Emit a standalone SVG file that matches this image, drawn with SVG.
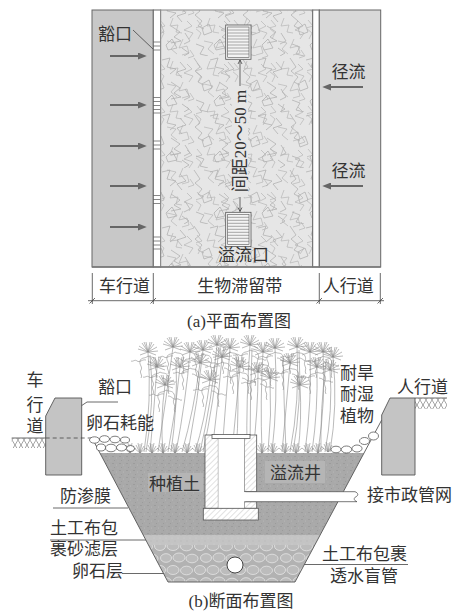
<svg xmlns="http://www.w3.org/2000/svg" xmlns:xlink="http://www.w3.org/1999/xlink" width="460" height="611" viewBox="0 0 460 611">
  <style>
    .t { font-family: "Liberation Serif", "Noto Sans CJK SC", serif; font-size: 17px; fill: #333; }
    .ln { stroke: #444; stroke-width: 0.8; fill: none; }
    .arw { stroke: #666; stroke-width: 2; fill: none; }
    .plant { stroke: #8c8c8c; stroke-width: 0.6; fill: none; }
    .edge { stroke: #666; stroke-width: 1; }
    .peb { fill: #fff; stroke: #444; stroke-width: 0.7; }
  </style>
  <defs>
    <marker id="ah" viewBox="0 0 10 8" refX="0" refY="4" markerWidth="10" markerHeight="7" markerUnits="userSpaceOnUse" orient="auto">
      <path d="M0,0 L10,4 L0,8 z" fill="#666"/>
    </marker>
    <!-- scribbled vegetation texture for the plan view, two tiles of different size -->
    <pattern id="scrib" width="48" height="56" patternUnits="userSpaceOnUse">
      <rect width="48" height="56" fill="#e6e6e6"/>
      <path d="M2,2 l6,9 -5,4 7,6 -4,5 6,3 M18,4 l8,-2 -3,9 9,2 -6,5 M36,6 l6,7 -9,3 5,6 M10,28 l7,-4 3,8 -8,3 z M27,26 l9,6 -6,5 7,4 -10,2 M41,33 l5,8 -6,3 M4,44 l8,3 -4,7 8,2 M22,45 l6,-6 5,9 -9,2 z M38,48 l7,5 -5,3" fill="none" stroke="#ababab" stroke-width="0.7"/>
    </pattern>
    <pattern id="scrib2" x="11" y="17" width="37" height="43" patternUnits="userSpaceOnUse">
      <path d="M1,3 l5,6 -7,2 6,5 -3,6 M14,1 l-3,8 8,-1 -2,7 6,1 M28,4 l5,5 -8,4 9,3 -4,6 M8,24 l9,2 -5,6 6,5 M24,22 l-4,9 8,-2 2,7 -7,2 M31,33 l4,6 -6,2" fill="none" stroke="#b2b2b2" stroke-width="0.65"/>
    </pattern>
    <pattern id="soil" width="7" height="7" patternUnits="userSpaceOnUse">
      <rect width="7" height="7" fill="#a9a9a9"/>
      <circle cx="1" cy="1.5" r="0.55" fill="#8c8c8c"/>
      <circle cx="4.5" cy="3" r="0.45" fill="#c6c6c6"/>
      <circle cx="2.5" cy="5.5" r="0.5" fill="#969696"/>
      <circle cx="6" cy="6" r="0.4" fill="#bdbdbd"/>
    </pattern>
    <pattern id="sand" width="6" height="6" patternUnits="userSpaceOnUse">
      <rect width="6" height="6" fill="#c4c4c4"/>
      <circle cx="1" cy="1" r="0.45" fill="#a5a5a5"/>
      <circle cx="4" cy="4" r="0.45" fill="#dcdcdc"/>
    </pattern>
    <pattern id="gravel" width="40" height="24" patternUnits="userSpaceOnUse">
      <rect width="40" height="24" fill="#b2b2b2"/>
      <g fill="#bcbcbc" stroke="#e4e4e4" stroke-width="0.8">
        <ellipse cx="6" cy="6" rx="5.5" ry="4.3"/>
        <ellipse cx="19" cy="5.5" rx="6" ry="4.5"/>
        <ellipse cx="32" cy="6.5" rx="6" ry="4.3"/>
        <ellipse cx="0" cy="18" rx="5.5" ry="4.5"/>
        <ellipse cx="40" cy="18" rx="5.5" ry="4.5"/>
        <ellipse cx="13" cy="18" rx="6" ry="4.5"/>
        <ellipse cx="26.5" cy="18.5" rx="6" ry="4.3"/>
      </g>
    </pattern>
    <pattern id="hatch" width="4" height="4" patternUnits="userSpaceOnUse" patternTransform="rotate(45)">
      <rect width="4" height="4" fill="#fff"/>
      <line x1="0" y1="0" x2="0" y2="4" stroke="#9a9a9a" stroke-width="0.6"/>
    </pattern>
    <pattern id="xx" width="6" height="10" patternUnits="userSpaceOnUse">
      <rect width="6" height="10" fill="#fff"/>
      <path d="M0,0 L6,10 M6,0 L0,10" stroke="#666" stroke-width="0.6"/>
    </pattern>
    <!-- overflow grate seen from above -->
    <g id="grate">
      <rect x="0" y="0" width="25.3" height="34.3" fill="#f3f3f3" stroke="#555" stroke-width="0.8"/>
      <rect x="2" y="2" width="21.3" height="30.3" fill="none" stroke="#555" stroke-width="0.6"/>
      <path d="M2,5 h21.3 M2,8 h21.3 M2,11 h21.3 M2,14 h21.3 M2,17 h21.3 M2,20 h21.3 M2,23 h21.3 M2,26 h21.3 M2,29 h21.3" stroke="#555" stroke-width="0.5"/>
    </g>
    <!-- plant parts -->
    <path id="fan" d="M0,0 l-10,-3 M0,0 l-9,-6 M0,0 l-6,-9 M0,0 l-2,-10 M0,0 l2,-10 M0,0 l6,-8 M0,0 l9,-5 M0,0 l10,-1 M0,0 l-8,3 M0,0 l8,3 M0,0 l-4,-10 M0,0 l4,-10"/>
    <path id="fol" d="M0,2 c-3,3 -7,1 -8,5 c-1,4 3,6 1,9 c-2,3 2,5 0,8 M0,2 c3,2 6,0 8,4 c2,4 -2,6 0,10 c2,3 -1,5 1,8 M-2,6 c-4,-1 -6,3 -9,1 c-2,-2 -4,1 -6,0 M2,8 c4,0 5,4 8,3 c3,-1 4,2 6,1"/>
    <path id="tuft" d="M0,0 l-4,-8 M0,0 l-2,-10 M0,0 l0,-9 M0,0 l2,-10 M0,0 l4,-7 M0,0 l6,-5 M0,0 l-6,-5"/>
  </defs>

  <rect width="460" height="611" fill="#fff"/>

  <!-- ===== (a) plan ===== -->
  <g id="plan-road">
    <rect x="92" y="10" width="61.3" height="257" fill="#c8c8c8" class="edge"/>
  </g>
  <g id="plan-curb">
    <rect x="153.3" y="10" width="7.4" height="257" fill="#fff" class="edge"/>
    <path d="M153.3,42 h7.4 M153.3,46 h7.4 M153.3,50 h7.4
             M153.3,97.5 h7.4 M153.3,101.5 h7.4 M153.3,105.5 h7.4 M153.3,109.5 h7.4 M153.3,113 h7.4
             M153.3,141 h7.4 M153.3,145 h7.4 M153.3,149 h7.4
             M153.3,195.5 h7.4 M153.3,199.5 h7.4 M153.3,203.5 h7.4
             M153.3,237 h7.4 M153.3,241 h7.4 M153.3,245 h7.4 M153.3,249 h7.4" stroke="#555" stroke-width="0.7"/>
  </g>
  <g id="plan-bioretention">
    <rect x="160.7" y="10" width="152" height="257" fill="url(#scrib)" stroke="#888" stroke-width="1"/>
    <rect x="161.2" y="10.5" width="151" height="256" fill="url(#scrib2)"/>
    <use xlink:href="#grate" x="225.7" y="25"/>
    <use xlink:href="#grate" x="225.7" y="212.3"/>
  </g>
  <g id="plan-gap">
    <rect x="312.7" y="10" width="6.6" height="257" fill="#fff" class="edge"/>
  </g>
  <g id="plan-walk">
    <rect x="319.3" y="10" width="61.4" height="257" fill="#d8d8d8" class="edge"/>
  </g>
  <line x1="92" y1="267" x2="380.7" y2="267" stroke="#777" stroke-width="1.5"/>

  <g id="plan-spacing">
    <rect x="232" y="86" width="16" height="111" fill="#e6e6e6"/>
    <text class="t" x="0" y="6" text-anchor="middle" transform="translate(240,141) rotate(-90)">间距20～50 m</text>
  </g>

  <g id="connectors">
    <!-- runoff arrows -->
    <line class="arw" x1="110" y1="56" x2="138" y2="56" marker-end="url(#ah)"/>
    <line class="arw" x1="110" y1="105" x2="138" y2="105" marker-end="url(#ah)"/>
    <line class="arw" x1="110" y1="146" x2="138" y2="146" marker-end="url(#ah)"/>
    <line class="arw" x1="110" y1="186" x2="138" y2="186" marker-end="url(#ah)"/>
    <line class="arw" x1="110" y1="227" x2="138" y2="227" marker-end="url(#ah)"/>
    <line class="arw" x1="363" y1="87" x2="331" y2="87" marker-end="url(#ah)"/>
    <line class="arw" x1="363" y1="186" x2="331" y2="186" marker-end="url(#ah)"/>
    <!-- spacing dimension -->
    <path class="ln" d="M240,60 V86 M240,197 V211.5"/>
    <path class="ln" d="M238,64 L240,60 L242,64 M238,207.5 L240,211.5 L242,207.5"/>
    <!-- inlet leader in plan -->
    <path class="ln" d="M133,30 L153,49"/>
    <!-- width dimension row -->
    <path class="ln" d="M92.3,273 V304 M153.3,273 V304 M319.3,273 V304 M380.3,273 V304 M88,300.7 H384"/>
    <path class="ln" d="M89.5,303.5 l5.5,-5.5 M150.5,303.5 l5.5,-5.5 M316.5,303.5 l5.5,-5.5 M377.5,303.5 l5.5,-5.5"/>
    <!-- section leaders -->
    <path class="ln" d="M118,402 H87 L72,412"/>
    <path class="ln" d="M53,508 H128"/>
    <path class="ln" d="M50,540 H148"/>
    <path class="ln" d="M122,573.5 H170"/>
    <path class="ln" d="M243,564.5 H408"/>
  </g>

  <g id="plan-labels">
    <text class="t" x="98" y="40">豁口</text>
    <text class="t" x="331.5" y="78">径流</text>
    <text class="t" x="331.5" y="177">径流</text>
    <text class="t" x="218" y="260.5">溢流口</text>
    <text class="t" x="124.5" y="291.5" text-anchor="middle">车行道</text>
    <text class="t" x="239.7" y="291.5" text-anchor="middle">生物滞留带</text>
    <text class="t" x="348.3" y="291.5" text-anchor="middle">人行道</text>
    <text class="t" x="239" y="326.5" text-anchor="middle">(a)平面布置图</text>
  </g>

  <!-- ===== (b) section ===== -->
  <g id="plants" class="plant">
    <path d="M144,452 Q152,400 148,352 M150,452 Q154,410 157,367 M158,452 Q166,400 173,347 M163,452 Q160,420 165,385
             M168,452 Q176,410 180,367 M176,452 Q186,400 190,352 M182,452 Q194,410 200,363 M188,452 Q198,400 203,350
             M195,452 Q205,420 210,380 M200,452 Q212,400 217,345 M212,452 Q218,405 222,357 M222,452 Q226,400 230,348
             M232,452 Q236,410 240,367 M247,452 Q246,400 250,345 M253,452 Q258,410 258,372 M262,452 Q260,400 263,352
             M268,452 Q272,415 270,378 M272,452 Q278,400 275,348 M282,452 Q286,410 290,363 M290,452 Q300,400 297,347
             M298,452 Q302,420 300,385 M305,452 Q312,400 310,352 M312,452 Q318,410 317,367 M318,452 Q326,400 323,352
             M325,452 Q333,410 330,370 M330,452 Q338,405 333,357
             M146,452 Q155,402 150,355 M203,452 Q214,402 219,348 M250,452 Q250,402 252,348 M293,452 Q302,402 299,350
             M171,452 Q178,405 176,360 M236,452 Q240,405 236,355 M286,452 Q284,405 283,358 M321,452 Q320,410 326,362"/>
    <use xlink:href="#fan" x="148" y="352"/><use xlink:href="#fan" x="173" y="347"/><use xlink:href="#fan" x="190" y="352"/>
    <use xlink:href="#fan" x="203" y="350"/><use xlink:href="#fan" x="217" y="345"/><use xlink:href="#fan" x="230" y="348"/>
    <use xlink:href="#fan" x="250" y="345"/><use xlink:href="#fan" x="263" y="352"/><use xlink:href="#fan" x="275" y="348"/>
    <use xlink:href="#fan" x="297" y="347"/><use xlink:href="#fan" x="310" y="352"/><use xlink:href="#fan" x="323" y="352"/>
    <use xlink:href="#fan" x="333" y="357"/><use xlink:href="#fan" x="157" y="367"/><use xlink:href="#fan" x="180" y="367"/>
    <use xlink:href="#fan" x="200" y="363"/><use xlink:href="#fan" x="222" y="357"/><use xlink:href="#fan" x="240" y="367"/>
    <use xlink:href="#fan" x="270" y="378"/><use xlink:href="#fan" x="290" y="363"/><use xlink:href="#fan" x="317" y="367"/>
    <use xlink:href="#fan" x="330" y="370"/><use xlink:href="#fan" x="165" y="385"/><use xlink:href="#fan" x="210" y="380"/>
    <use xlink:href="#fan" x="258" y="372"/><use xlink:href="#fan" x="300" y="385"/>
    <use xlink:href="#fol" x="148" y="354"/><use xlink:href="#fol" x="175" y="350"/><use xlink:href="#fol" x="203" y="352"/>
    <use xlink:href="#fol" x="230" y="350"/><use xlink:href="#fol" x="250" y="348"/><use xlink:href="#fol" x="275" y="350"/>
    <use xlink:href="#fol" x="297" y="350"/><use xlink:href="#fol" x="323" y="354"/><use xlink:href="#fol" x="160" y="370"/>
    <use xlink:href="#fol" x="190" y="366"/><use xlink:href="#fol" x="222" y="360"/><use xlink:href="#fol" x="262" y="362"/>
    <use xlink:href="#fol" x="290" y="366"/><use xlink:href="#fol" x="317" y="370"/><use xlink:href="#fol" x="240" y="370"/>
    <use xlink:href="#fol" x="210" y="383"/><use xlink:href="#fol" x="258" y="376"/><use xlink:href="#fol" x="166" y="388"/>
  </g>

  <g id="basin">
    <polygon points="100,453 364,453 320.1,535 143.2,535" fill="url(#soil)"/>
    <polygon points="143.2,535 320.1,535 314.8,545 148.5,545" fill="url(#sand)"/>
    <polygon points="148.5,545 314.8,545 295,582 168,582" fill="url(#gravel)"/>
    <path d="M92,438 L168,582 L295,582 L381.7,420" fill="none" stroke="#555" stroke-width="0.9"/>
    <rect x="148" y="473" width="55" height="19" fill="#b5b5b5"/>
    <rect x="265" y="461" width="60" height="22" fill="#b5b5b5"/>
  </g>

  <g id="grass" class="plant">
    <use xlink:href="#tuft" x="130" y="453"/><use xlink:href="#tuft" x="140" y="453"/><use xlink:href="#tuft" x="152" y="453"/>
    <use xlink:href="#tuft" x="163" y="453"/><use xlink:href="#tuft" x="175" y="453"/><use xlink:href="#tuft" x="187" y="453"/>
    <use xlink:href="#tuft" x="198" y="453"/><use xlink:href="#tuft" x="262" y="453"/><use xlink:href="#tuft" x="273" y="453"/>
    <use xlink:href="#tuft" x="285" y="453"/><use xlink:href="#tuft" x="296" y="453"/><use xlink:href="#tuft" x="308" y="453"/>
    <use xlink:href="#tuft" x="318" y="453"/><use xlink:href="#tuft" x="328" y="452"/>
  </g>

  <g id="left-curb">
    <rect x="11.7" y="438" width="34" height="10" fill="url(#xx)"/>
    <line x1="11.7" y1="438" x2="45.7" y2="438" stroke="#444" stroke-width="0.8"/>
    <polygon points="55,398 81.7,398 81.7,475 45.7,475 45.7,416" fill="#c4c4c4" stroke="#555" stroke-width="0.9"/>
    <line x1="45.7" y1="438" x2="92" y2="438" stroke="#444" stroke-width="0.8" stroke-dasharray="4,3"/>
  </g>
  <g id="right-curb">
    <rect x="415" y="398" width="32" height="11" fill="url(#xx)"/>
    <line x1="415" y1="398" x2="447" y2="398" stroke="#444" stroke-width="0.8"/>
    <polygon points="390,398 415,398 415,475 381.7,475 381.7,415" fill="#c4c4c4" stroke="#555" stroke-width="0.9"/>
  </g>

  <g id="cobbles">
    <ellipse class="peb" cx="94.5" cy="440" rx="5" ry="3.2"/>
    <ellipse class="peb" cx="104.5" cy="439" rx="5" ry="3.3"/>
    <ellipse class="peb" cx="115" cy="439.5" rx="5" ry="3.3"/>
    <ellipse class="peb" cx="125" cy="440" rx="4.5" ry="3"/>
    <ellipse class="peb" cx="101" cy="447.5" rx="4.5" ry="3.5"/>
    <ellipse class="peb" cx="111" cy="448" rx="5.5" ry="3.8"/>
    <ellipse class="peb" cx="121.5" cy="447.5" rx="5" ry="3.5"/>
    <ellipse class="peb" cx="130.5" cy="448.5" rx="4" ry="3"/>
    <ellipse class="peb" cx="336" cy="449.5" rx="5" ry="3.3"/>
    <ellipse class="peb" cx="346.5" cy="449.5" rx="5.2" ry="3.5"/>
    <ellipse class="peb" cx="357" cy="448.5" rx="5" ry="3.5"/>
    <ellipse class="peb" cx="364.5" cy="441" rx="5" ry="3.5"/>
    <ellipse class="peb" cx="373.5" cy="436" rx="5" ry="4"/>
  </g>

  <g id="overflow-well">
    <rect x="205" y="435" width="13.3" height="73.3" fill="url(#hatch)" stroke="#555" stroke-width="0.8"/>
    <rect x="244.3" y="435" width="12.4" height="56.7" fill="url(#hatch)" stroke="#555" stroke-width="0.8"/>
    <rect x="244.3" y="501.7" width="12.4" height="6.6" fill="url(#hatch)" stroke="#555" stroke-width="0.8"/>
    <rect x="218.3" y="438" width="26" height="70.3" fill="#fff"/>
    <rect x="203.3" y="508.3" width="55" height="11.7" fill="url(#hatch)" stroke="#555" stroke-width="0.8"/>
    <rect x="212" y="434.5" width="38" height="4" fill="#fff" stroke="#555" stroke-width="0.8"/>
  </g>
  <g id="outlet-pipe">
    <path d="M244.3,491.7 H355 C358.5,493 358.5,495.5 356,496.7 C353.5,498 353.5,500.5 357,501.7 H244.3" fill="#fff" stroke="#555" stroke-width="0.8"/>
    <rect x="243.5" y="492.2" width="2" height="9" fill="#fff"/>
  </g>
  <g id="blind-pipe">
    <circle cx="235" cy="565" r="8" fill="#fff" stroke="#333" stroke-width="0.9"/>
  </g>

  <g id="section-labels">
    <text class="t" x="35" y="385.5" text-anchor="middle">车</text>
    <text class="t" x="35" y="410.5" text-anchor="middle">行</text>
    <text class="t" x="35" y="431.5" text-anchor="middle">道</text>
    <text class="t" x="98" y="392.5">豁口</text>
    <text class="t" x="86" y="429">卵石耗能</text>
    <text class="t" x="340" y="378.5">耐旱</text>
    <text class="t" x="340" y="400">耐湿</text>
    <text class="t" x="340" y="421.5">植物</text>
    <text class="t" x="397" y="393">人行道</text>
    <text class="t" x="149" y="489.5">种植土</text>
    <text class="t" x="270" y="478.5">溢流井</text>
    <text class="t" x="367" y="501">接市政管网</text>
    <text class="t" x="60" y="502">防渗膜</text>
    <text class="t" x="50" y="534">土工布包</text>
    <text class="t" x="50" y="555">裹砂滤层</text>
    <text class="t" x="72" y="577">卵石层</text>
    <text class="t" x="322" y="560">土工布包裹</text>
    <text class="t" x="330" y="581.5">透水盲管</text>
    <text class="t" x="241" y="606.5" text-anchor="middle">(b)断面布置图</text>
  </g>
</svg>
